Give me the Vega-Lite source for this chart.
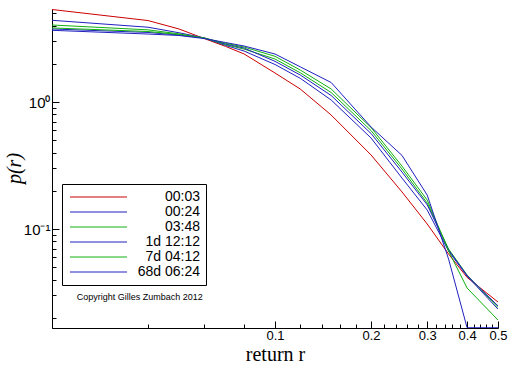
{
  "$schema": "https://vega.github.io/schema/vega-lite/v6.json",
  "width": 446,
  "height": 319,
  "autosize": {"type": "none"},
  "padding": {"left": 52, "top": 9, "right": 14, "bottom": 38},
  "background": "white",
  "config": {"view": {"stroke": null}, "font": "Liberation Sans"},
  "layer": [
    {
      "data": {
        "values": [
          {"h": "00:03", "r": 0.02, "p": 5.35}, {"h": "00:03", "r": 0.04, "p": 4.38}, {"h": "00:03", "r": 0.05, "p": 3.76}, {"h": "00:03", "r": 0.06, "p": 3.16}, {"h": "00:03", "r": 0.07, "p": 2.74}, {"h": "00:03", "r": 0.08, "p": 2.39}, {"h": "00:03", "r": 0.1, "p": 1.692}, {"h": "00:03", "r": 0.12, "p": 1.266}, {"h": "00:03", "r": 0.15, "p": 0.79}, {"h": "00:03", "r": 0.2, "p": 0.383}, {"h": "00:03", "r": 0.25, "p": 0.196}, {"h": "00:03", "r": 0.3, "p": 0.1095}, {"h": "00:03", "r": 0.35, "p": 0.0635}, {"h": "00:03", "r": 0.4, "p": 0.0416}, {"h": "00:03", "r": 0.5, "p": 0.0266},
          {"h": "00:24", "r": 0.02, "p": 4.40}, {"h": "00:24", "r": 0.04, "p": 3.88}, {"h": "00:24", "r": 0.05, "p": 3.51}, {"h": "00:24", "r": 0.06, "p": 3.20}, {"h": "00:24", "r": 0.07, "p": 2.79}, {"h": "00:24", "r": 0.08, "p": 2.52}, {"h": "00:24", "r": 0.1, "p": 1.974}, {"h": "00:24", "r": 0.12, "p": 1.537}, {"h": "00:24", "r": 0.15, "p": 1.037}, {"h": "00:24", "r": 0.2, "p": 0.521}, {"h": "00:24", "r": 0.25, "p": 0.252}, {"h": "00:24", "r": 0.3, "p": 0.141}, {"h": "00:24", "r": 0.35, "p": 0.0671}, {"h": "00:24", "r": 0.4, "p": 0.0426}, {"h": "00:24", "r": 0.5, "p": 0.0234},
          {"h": "03:48", "r": 0.02, "p": 4.04}, {"h": "03:48", "r": 0.04, "p": 3.70}, {"h": "03:48", "r": 0.05, "p": 3.44}, {"h": "03:48", "r": 0.06, "p": 3.19}, {"h": "03:48", "r": 0.07, "p": 2.83}, {"h": "03:48", "r": 0.08, "p": 2.61}, {"h": "03:48", "r": 0.1, "p": 2.18}, {"h": "03:48", "r": 0.12, "p": 1.698}, {"h": "03:48", "r": 0.15, "p": 1.188}, {"h": "03:48", "r": 0.2, "p": 0.596}, {"h": "03:48", "r": 0.25, "p": 0.297}, {"h": "03:48", "r": 0.3, "p": 0.160}, {"h": "03:48", "r": 0.35, "p": 0.0696}, {"h": "03:48", "r": 0.4, "p": 0.0434}, {"h": "03:48", "r": 0.5, "p": 0.0241},
          {"h": "1d 12:12", "r": 0.02, "p": 3.76}, {"h": "1d 12:12", "r": 0.04, "p": 3.53}, {"h": "1d 12:12", "r": 0.05, "p": 3.37}, {"h": "1d 12:12", "r": 0.06, "p": 3.19}, {"h": "1d 12:12", "r": 0.07, "p": 2.86}, {"h": "1d 12:12", "r": 0.08, "p": 2.66}, {"h": "1d 12:12", "r": 0.1, "p": 2.09}, {"h": "1d 12:12", "r": 0.12, "p": 1.632}, {"h": "1d 12:12", "r": 0.15, "p": 1.125}, {"h": "1d 12:12", "r": 0.2, "p": 0.565}, {"h": "1d 12:12", "r": 0.25, "p": 0.281}, {"h": "1d 12:12", "r": 0.3, "p": 0.155}, {"h": "1d 12:12", "r": 0.35, "p": 0.0684}, {"h": "1d 12:12", "r": 0.4, "p": 0.0430}, {"h": "1d 12:12", "r": 0.5, "p": 0.0248},
          {"h": "7d 04:12", "r": 0.02, "p": 3.83}, {"h": "7d 04:12", "r": 0.04, "p": 3.59}, {"h": "7d 04:12", "r": 0.05, "p": 3.40}, {"h": "7d 04:12", "r": 0.06, "p": 3.19}, {"h": "7d 04:12", "r": 0.07, "p": 2.90}, {"h": "7d 04:12", "r": 0.08, "p": 2.71}, {"h": "7d 04:12", "r": 0.1, "p": 2.29}, {"h": "7d 04:12", "r": 0.12, "p": 1.786}, {"h": "7d 04:12", "r": 0.15, "p": 1.266}, {"h": "7d 04:12", "r": 0.2, "p": 0.630}, {"h": "7d 04:12", "r": 0.25, "p": 0.313}, {"h": "7d 04:12", "r": 0.3, "p": 0.169}, {"h": "7d 04:12", "r": 0.35, "p": 0.0671}, {"h": "7d 04:12", "r": 0.4, "p": 0.0343}, {"h": "7d 04:12", "r": 0.5, "p": 0.0192},
          {"h": "68d 06:24", "r": 0.02, "p": 3.67}, {"h": "68d 06:24", "r": 0.04, "p": 3.43}, {"h": "68d 06:24", "r": 0.05, "p": 3.34}, {"h": "68d 06:24", "r": 0.06, "p": 3.16}, {"h": "68d 06:24", "r": 0.07, "p": 2.94}, {"h": "68d 06:24", "r": 0.08, "p": 2.76}, {"h": "68d 06:24", "r": 0.1, "p": 2.388}, {"h": "68d 06:24", "r": 0.12, "p": 1.893}, {"h": "68d 06:24", "r": 0.15, "p": 1.424}, {"h": "68d 06:24", "r": 0.2, "p": 0.636}, {"h": "68d 06:24", "r": 0.25, "p": 0.38}, {"h": "68d 06:24", "r": 0.3, "p": 0.185}, {"h": "68d 06:24", "r": 0.35, "p": 0.058}, {"h": "68d 06:24", "r": 0.4, "p": 0.0167}, {"h": "68d 06:24", "r": 0.5, "p": 0.0167}
        ]
      },
      "mark": {"type": "line", "strokeWidth": 1, "clip": true},
      "encoding": {
        "x": {
          "field": "r", "type": "quantitative",
          "scale": {"type": "log", "domain": [0.02, 0.5], "nice": false},
          "axis": {
            "values": [0.02, 0.04, 0.06, 0.08, 0.1, 0.12, 0.14, 0.16, 0.18, 0.2, 0.22, 0.24, 0.26, 0.28, 0.3, 0.32, 0.34, 0.36, 0.38, 0.4, 0.42, 0.44, 0.46, 0.48, 0.5],
            "labelExpr": "indexof([0.1,0.2,0.3,0.4,0.5], datum.value) >= 0 ? format(datum.value, '.1f') : ''",
            "tickSize": {"condition": {"test": "indexof([0.1,0.2,0.3,0.4,0.5], datum.value) >= 0", "value": -7}, "value": -4},
            "grid": false,
            "tickColor": "black", "domainColor": "black", "labelColor": "black",
            "labelFont": "Liberation Sans", "labelFontSize": 13, "labelPadding": 8,
            "labelFlush": false, "labelOverlap": false,
            "title": "return  r", "titleFont": "Liberation Serif", "titleFontSize": 20, "titleFontWeight": "normal", "titleColor": "black",
            "titleY": 32, "titleBaseline": "alphabetic"
          }
        },
        "y": {
          "field": "p", "type": "quantitative",
          "scale": {"type": "log", "domain": [0.01662, 5.4], "nice": false},
          "axis": {
            "values": [0.02, 0.03, 0.04, 0.05, 0.06, 0.07, 0.08, 0.09, 0.1, 0.2, 0.3, 0.4, 0.5, 0.6, 0.7, 0.8, 0.9, 1, 2, 3, 4, 5],
            "labelExpr": "datum.value == 1 ? '10\u2070' : (datum.value == 0.1 ? '10\u207b\u00b9' : '')",
            "tickSize": {"condition": {"test": "datum.value == 1 || datum.value == 0.1", "value": -7}, "value": -4},
            "grid": false,
            "tickColor": "black", "domainColor": "black", "labelColor": "black",
            "labelFont": "Liberation Sans", "labelFontSize": 15, "labelPadding": 9,
            "labelOverlap": false, "labelFlush": false,
            "title": "p(r)", "titleFont": "Liberation Serif", "titleFontStyle": "italic", "titleFontSize": 20, "titleFontWeight": "normal", "titleColor": "black",
            "titleX": -38, "titleY": 159, "titleBaseline": "middle", "titleAlign": "center", "titleAngle": -90
          }
        },
        "color": {
          "field": "h", "type": "nominal",
          "scale": {
            "domain": ["00:03", "00:24", "03:48", "1d 12:12", "7d 04:12", "68d 06:24"],
            "range": ["#cc0000", "#2020c0", "#10b010", "#2020c0", "#10b010", "#2020c0"]
          },
          "legend": {
            "orient": "none", "legendX": 10, "legendY": 175,
            "title": null,
            "strokeColor": "black", "fillColor": "white", "padding": 6,
            "symbolType": "M-1.67,0H17.33", "symbolSize": 36, "symbolStrokeWidth": 1,
            "labelFont": "Liberation Sans", "labelFontSize": 14, "labelColor": "black",
            "labelAlign": "right", "labelOffset": 118, "rowPadding": 1, "labelLimit": 200
          }
        }
      }
    },
    {
      "data": {"values": [{"note": "Copyright Gilles Zumbach 2012"}]},
      "mark": {"type": "text", "align": "left", "baseline": "middle", "fontSize": 9, "font": "Liberation Sans", "color": "black"},
      "encoding": {
        "x": {"datum": 0.0239},
        "y": {"datum": 0.0292},
        "text": {"field": "note"}
      }
    }
  ]
}
